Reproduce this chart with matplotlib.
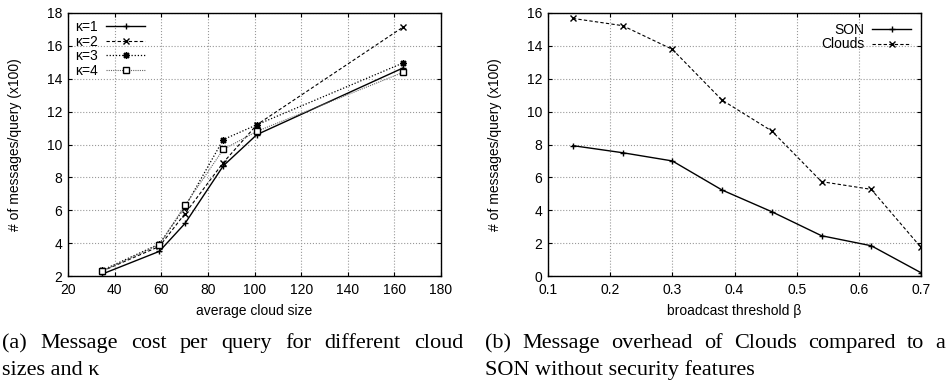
import matplotlib
matplotlib.use("Agg")
import matplotlib.pyplot as plt

plt.rcParams['font.family'] = ['Liberation Sans', 'DejaVu Sans']

# (a) message cost vs average cloud size
cloud_size = [34.7, 59.2, 70.2, 86.6, 101, 163.9]
k1 = [2.12, 3.5, 5.2, 8.7, 10.6, 14.67]
k2 = [2.3, 3.8, 5.8, 8.9, 11.2, 17.16]
k3 = [2.35, 3.95, 6.2, 10.3, 11.2, 14.97]
k4 = [2.3, 3.9, 6.3, 9.7, 10.8, 14.4]

# (b) overhead vs broadcast threshold
beta = [0.14, 0.22, 0.30, 0.38, 0.46, 0.54, 0.62, 0.70]
son = [7.93, 7.5, 7.0, 5.23, 3.91, 2.45, 1.84, 0.2]
clouds = [15.67, 15.23, 13.79, 10.7, 8.82, 5.74, 5.27, 1.74]

W, H = 948, 382
fig = plt.figure(figsize=(W / 100, H / 100), dpi=100)
ax1 = fig.add_axes([68 / W, 1 - 276 / H, 373 / W, 263 / H])
ax2 = fig.add_axes([548 / W, 1 - 276 / H, 373 / W, 263 / H])

grid_kw = dict(color='#999999', linestyle=':', linewidth=0.8)
fs = 10

ax1.plot(cloud_size, k1, color='black', linestyle='-', linewidth=1.0,
         marker='+', markersize=5, label='κ=1')
ax1.plot(cloud_size, k2, color='black', linestyle=(0, (3, 2)), linewidth=0.8,
         marker='x', markersize=4, label='κ=2')
ax1.plot(cloud_size, k3, color='black', linestyle=(0, (1, 1.5)), linewidth=0.9,
         marker=(8, 2, 0), markersize=5, label='κ=3')
ax1.plot(cloud_size, k4, color='#666666', linestyle=(0, (1, 1)), linewidth=0.8,
         marker='s', markersize=4, markerfacecolor='white',
         markeredgecolor='black', label='κ=4')
ax1.set_xlim(20, 180)
ax1.set_ylim(2, 18)
ax1.set_xticks(range(20, 181, 20))
ax1.set_yticks(range(2, 19, 2))

ax2.plot(beta, son, color='black', linestyle='-', linewidth=1.0,
         marker='+', markersize=5, label='SON')
ax2.plot(beta, clouds, color='black', linestyle=(0, (3, 2)), linewidth=0.8,
         marker='x', markersize=4, label='Clouds')
ax2.set_xlim(0.1, 0.7)
ax2.set_ylim(0, 16)
ax2.set_xticks([0.1, 0.2, 0.3, 0.4, 0.5, 0.6, 0.7])
ax2.set_yticks(range(0, 17, 2))

ax1.set_xlabel('average cloud size', fontsize=fs, labelpad=5)
ax2.set_xlabel('broadcast threshold β', fontsize=fs, labelpad=5)

leg_kw = dict(markerfirst=False, frameon=False, fontsize=fs, handlelength=2.8,
              handletextpad=0.6, labelspacing=0.05)
ax1.legend(loc='upper left', borderaxespad=0.1, **leg_kw)
ax2.legend(loc='upper right', borderaxespad=0.3, **leg_kw)

for ax in (ax1, ax2):
    ax.grid(True, **grid_kw)
    ax.set_ylabel('# of messages/query (x100)', fontsize=fs)
    ax.yaxis.set_label_coords(-46 / 373, 0.5)
    ax.tick_params(direction='in', labelsize=fs, length=3, top=True, right=True)
    ax.tick_params(axis='x', pad=5)
    ax.tick_params(axis='y', pad=4)
    for s in ax.spines.values():
        s.set_linewidth(1.0)

# captions, first line justified like the LaTeX original
cap_kw = dict(fontsize=16, family=['Liberation Serif', 'DejaVu Serif'], va='baseline')
renderer = fig.canvas.get_renderer()


def justified(text, x0, x1, y):
    words = text.split()
    objs = [fig.text(0, y, w, **cap_kw) for w in words]
    widths = [o.get_window_extent(renderer).width for o in objs]
    gap = (x1 - x0 - sum(widths)) / (len(words) - 1)
    x = x0
    for o, w in zip(objs, widths):
        o.set_x(x / W)
        x += w + gap


justified('(a) Message cost per query for different cloud', 2, 463, 1 - 348 / H)
fig.text(2 / W, 1 - 375 / H, 'sizes and κ', **cap_kw)
justified('(b) Message overhead of Clouds compared to a', 485, 945, 1 - 348 / H)
fig.text(485 / W, 1 - 375 / H, 'SON without security features', **cap_kw)

fig.savefig('out.png', dpi=100)
